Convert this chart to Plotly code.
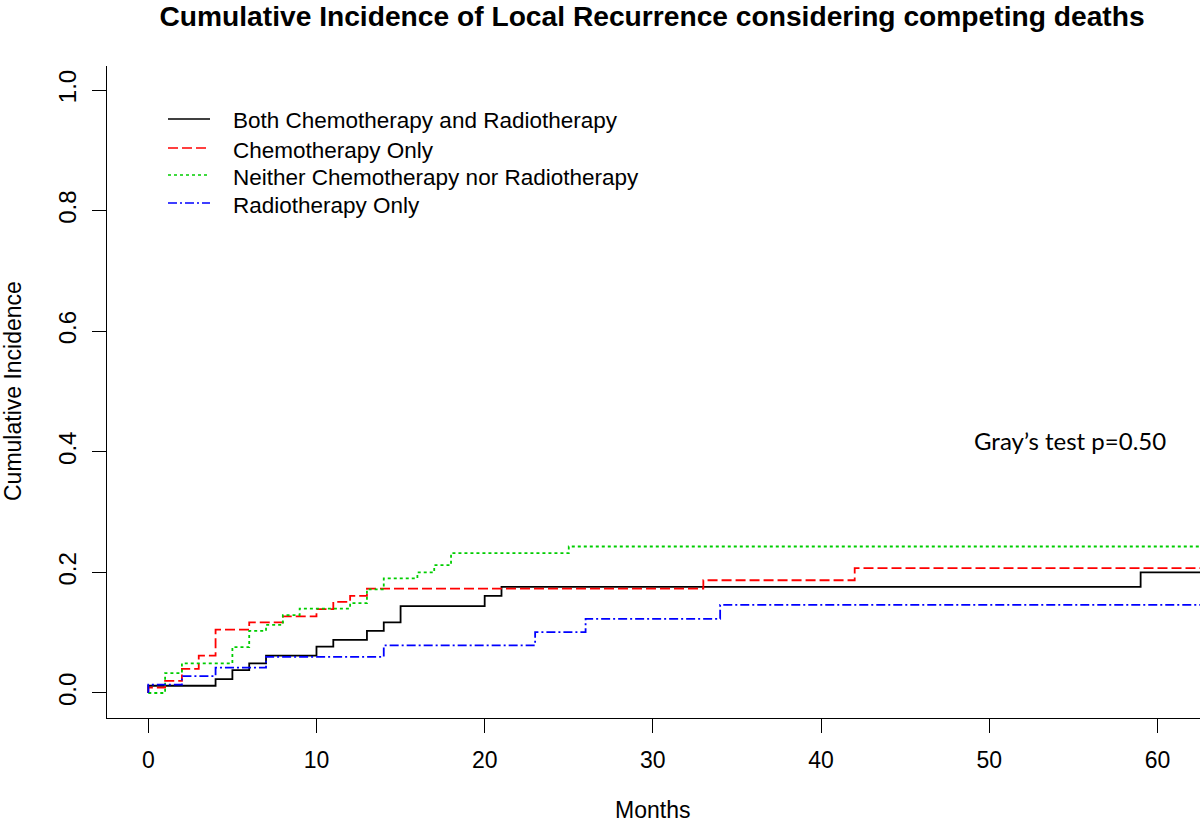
import plotly.graph_objects as go

# ---- data ----
series_names = [
    "Both Chemotherapy and Radiotherapy",
    "Chemotherapy Only",
    "Neither Chemotherapy nor Radiotherapy",
    "Radiotherapy Only",
]

both_t = [0, 0, 4, 5, 6, 7, 10, 11, 13, 14, 15, 20, 21, 59, 63]
both_v = [0, 0.012, 0.023, 0.038, 0.049, 0.062, 0.077, 0.088, 0.103, 0.117, 0.144, 0.161, 0.176, 0.200, 0.200]

chemo_t = [0, 0, 1, 2, 3, 4, 6, 8, 10, 11, 12, 13, 33, 42, 63]
chemo_v = [0, 0.009, 0.020, 0.040, 0.062, 0.105, 0.117, 0.127, 0.139, 0.151, 0.161, 0.173, 0.187, 0.207, 0.207]

neither_t = [0, 1, 2, 5, 6, 7, 8, 9, 12, 13, 14, 16, 17, 18, 25, 63]
neither_v = [0, 0.033, 0.049, 0.076, 0.103, 0.113, 0.129, 0.140, 0.149, 0.172, 0.190, 0.200, 0.212, 0.232, 0.243, 0.243]

radio_t = [0, 0, 2, 4, 7, 14, 23, 26, 34, 63]
radio_v = [0, 0.014, 0.028, 0.042, 0.060, 0.079, 0.101, 0.123, 0.146, 0.146]

x_ticks = [0, 10, 20, 30, 40, 50, 60]
y_ticks = [0.0, 0.2, 0.4, 0.6, 0.8, 1.0]
y_tick_labels = ["0.0", "0.2", "0.4", "0.6", "0.8", "1.0"]

title_text = "Cumulative Incidence of Local Recurrence considering competing deaths"
x_title = "Months"
y_title = "Cumulative Incidence"
test_text = "Gray\u2019s test p=0.50"

# ---- styling ----
FONT = "Liberation Sans, Arial, sans-serif"
styles = [
    dict(color="#000000", dash="solid"),
    dict(color="#FF0000", dash="10px,4px"),
    dict(color="#00CD00", dash="3px,3px"),
    dict(color="#0000FF", dash="9px,3px,2px,3px"),
]
data = [(both_t, both_v), (chemo_t, chemo_v), (neither_t, neither_v), (radio_t, radio_v)]

L, R, T, B = 107, 0, 66, 108
W, H = 1200, 826
pw = W - L - R
ph = H - T - B


def px_x(px):
    return (px - L) / pw


def px_y(py):
    return (H - B - py) / ph


fig = go.Figure()
for name, (t, v), st in zip(series_names, data, styles):
    fig.add_trace(go.Scatter(
        x=t, y=v, mode="lines", name=name, showlegend=False,
        line=dict(shape="hv", width=1.8, color=st["color"], dash=st["dash"]),
    ))

# legend (drawn in R's base-graphics style: key line + text)
legend_text_y = [121, 150, 177, 205]
shapes = []
annotations = []
for name, st, ty in zip(series_names, styles, legend_text_y):
    shapes.append(dict(
        type="line", xref="paper", yref="paper",
        x0=px_x(168), x1=px_x(210), y0=px_y(ty - 2), y1=px_y(ty - 2),
        line=dict(color=st["color"], width=1.6, dash=st["dash"]),
    ))
    annotations.append(dict(
        text=name, xref="paper", yref="paper", x=px_x(231), y=px_y(ty),
        xanchor="left", yanchor="middle", showarrow=False,
        font=dict(family=FONT, size=22.5, color="#000000"),
    ))

annotations += [
    dict(text=x_title, xref="paper", yref="paper", x=px_x(652), y=px_y(810),
         xanchor="center", yanchor="middle", showarrow=False, borderpad=0,
         font=dict(family=FONT, size=23, color="#000000")),
    dict(text=y_title, xref="paper", yref="paper", x=px_x(13), y=px_y(391),
         xanchor="center", yanchor="middle", showarrow=False, textangle=-90,
         font=dict(family=FONT, size=23, color="#000000")),
    dict(text=test_text, xref="x", yref="y", x=48.95, y=0.418,
         xanchor="left", yanchor="middle", showarrow=False,
         font=dict(family="Lato, Liberation Sans, sans-serif", size=24, color="#000000")),
]

fig.update_layout(
    width=W, height=H, autosize=False,
    margin=dict(l=L, r=R, t=T, b=B, pad=0),
    paper_bgcolor="white", plot_bgcolor="white",
    font=dict(family=FONT, size=23, color="#000000"),
    title=dict(
        text="<b>" + title_text + "</b>",
        font=dict(family=FONT, size=28.2, color="#000000"),
        xref="container", yref="container",
        x=652 / W, y=1 - 16 / H, xanchor="center", yanchor="middle",
    ),
    showlegend=False,
    xaxis=dict(
        range=[-2.455, 62.53], tickmode="array", tickvals=x_ticks,
        ticks="outside", ticklen=14, tickwidth=1.3, tickcolor="#000000",
        showline=True, linewidth=1.3, linecolor="#000000", mirror=False,
        showgrid=False, zeroline=False,
        tickfont=dict(family=FONT, size=23, color="#000000"),
        ticklabelstandoff=7,
    ),
    yaxis=dict(
        range=[-0.0415, 1.04], tickmode="array", tickvals=y_ticks, ticktext=y_tick_labels,
        ticks="outside", ticklen=14, tickwidth=1.3, tickcolor="#000000",
        showline=True, linewidth=1.3, linecolor="#000000", mirror=False,
        showgrid=False, zeroline=False, tickangle=-90,
        tickfont=dict(family=FONT, size=24, color="#000000"),
        ticklabelstandoff=6,
    ),
    shapes=shapes,
    annotations=annotations,
)

fig.write_html(
    "out.html",
    config={"displayModeBar": False},
    post_script="document.body.style.margin='0px';",
)
